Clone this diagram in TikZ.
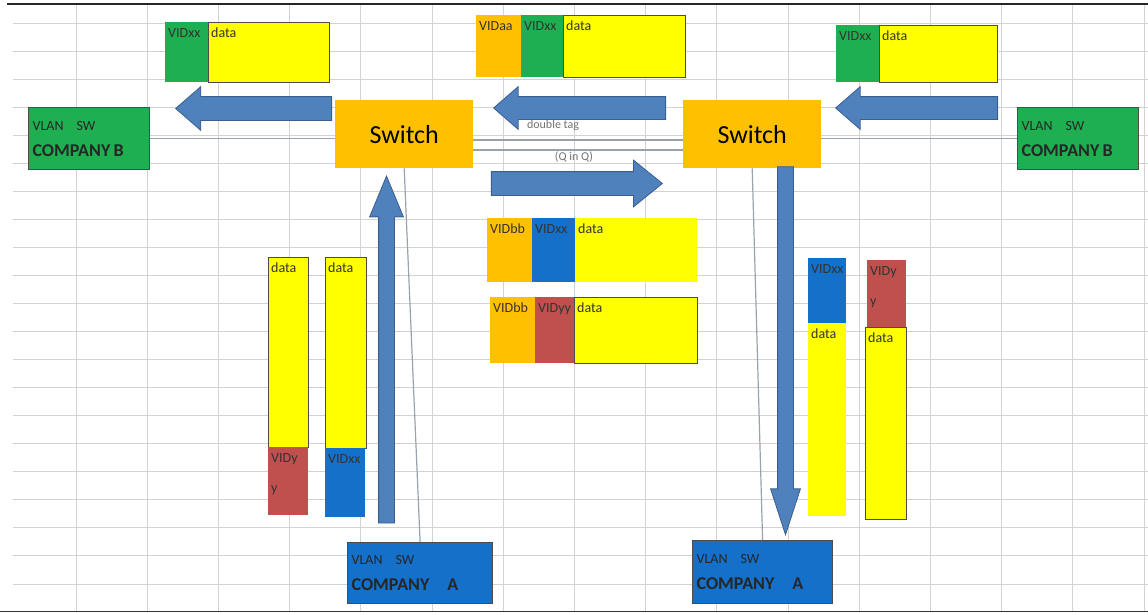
\documentclass[tikz,border=0pt]{standalone}
\usepackage{fontspec}
\setmainfont{Carlito}
\usepackage{xcolor}
\usepackage{tikz}
\usetikzlibrary{shapes,arrows,positioning,calc}
\definecolor{cellyellow}{HTML}{FFFF00}
\definecolor{vidgreen}{HTML}{1DAF50}
\definecolor{vidorange}{HTML}{FFC000}
\definecolor{vidblue}{HTML}{1470C8}
\definecolor{vidred}{HTML}{C0504D}
\definecolor{arrowblue}{HTML}{4F81BD}
\definecolor{arrowedge}{HTML}{3A5F8F}
\definecolor{gridgray}{HTML}{D2D2D2}
\definecolor{linkgray}{HTML}{9AA3AD}
\tikzset{
    cell/.style={
        rectangle,
        inner sep=0pt,
        outer sep=0pt,
        anchor=north west
    },
    datacell/.style={cell, fill=cellyellow},
    framed/.style={draw=black!70, line width=1pt},
    tag/.style={
        anchor=north west,
        inner sep=0pt,
        xshift=3pt,
        yshift=-6pt,
        align=left,
        text=black!80,
        font=\fontsize{14}{30}\selectfont
    },
    company/.style={
        rectangle,
        anchor=north west,
        draw=black!70,
        line width=1.2pt,
        inner sep=4pt,
        align=left,
        text=black!85
    },
    switch/.style={
        rectangle,
        anchor=north west,
        fill=vidorange,
        minimum width=138pt,
        minimum height=68pt,
        inner sep=0pt,
        font=\fontsize{26}{28}\selectfont % big label like the sheet
    },
    bigarrow/.style={
        single arrow,
        anchor=tip,
        draw=arrowedge,
        fill=arrowblue,
        line width=0.8pt,
        inner xsep=0pt,
        single arrow head indent=0pt
    },
    link/.style={draw=linkgray, line width=1.5pt},
    gridline/.style={draw=gridgray, line width=1pt},
    note/.style={text=black!55, inner sep=0pt, font=\fontsize{12}{14}\selectfont}
}
\newcommand{\vlanname}[1]{{\fontsize{14}{16}\selectfont VLAN\hspace{13pt}SW}\\[14pt]{\fontsize{18}{20}\selectfont\bfseries #1}}

\begin{document}
\begin{tikzpicture}[x=1pt, y=-1pt]
    \useasboundingbox (0,0) rectangle (1148,614);
    % sheet grid
    \foreach \gy in {0,...,20}
        \draw[gridline] (13,{23+28.05*\gy}) -- (1148,{23+28.05*\gy});
    \foreach \gx in {0,...,15}
        \draw[gridline] ({76+71.2*\gx},4) -- ({76+71.2*\gx},611);
    \draw[line width=2pt, black!85] (7,3.5) -- (1148,3.5);
    \draw[line width=1.5pt, black!80] (0,611.5) -- (1148,611.5);

    % switches and end stations
    \node (swL) [switch] at (335,100) {Switch};
    \node (swR) [switch] at (683,100) {Switch};
    \node (cbL) [company, fill=vidgreen, text width=113pt, minimum height=62pt] at (28,107) {\vlanname{COMPANY B}};
    \node (cbR) [company, fill=vidgreen, text width=113pt, minimum height=62pt] at (1017,107) {\vlanname{COMPANY B}};
    \node (caL) [company, fill=vidblue, text width=137pt, minimum height=61pt] at (347,542) {\vlanname{COMPANY\hspace{18pt}A}};
    \node (caR) [company, fill=vidblue, text width=132pt, minimum height=63pt] at (692,540) {\vlanname{COMPANY\hspace{18pt}A}};

    \draw[link] (cbL.east) -- (cbL.east -| swL.west);
    \draw[link] (cbR.west -| swR.east) -- (cbR.west);
    \draw[link] ($(swL.east)+(0,6)$) -- ($(swR.west)+(0,6)$);
    \draw[link] ($(swL.east)+(0,16)$) -- ($(swR.west)+(0,16)$);
    \draw[link, line width=1.2pt] (swL.south) -- (caL.north);
    \draw[link, line width=1.2pt] (swR.south) -- (caR.north);

    \node (dtag) [note] at (553,125) {double tag};
    \node (qinq) [note] at (574,157) {(Q in Q)};

    % frames on top
    \node (tlVid) [cell, fill=vidgreen, minimum width=43pt, minimum height=60pt, label={[tag]north west:VIDxx}] at (165,22) {};
    \node (tlData) [datacell, framed, minimum width=121pt, minimum height=60pt, label={[tag]north west:data}] at (tlVid.north east) {};
    \node (tmOuter) [cell, fill=vidorange, minimum width=45pt, minimum height=62pt, label={[tag]north west:VIDaa}] at (476,15) {};
    \node (tmInner) [cell, fill=vidgreen, minimum width=42pt, minimum height=62pt, label={[tag]north west:VIDxx}] at (tmOuter.north east) {};
    \node (tmData) [datacell, framed, minimum width=122pt, minimum height=62pt, label={[tag]north west:data}] at (tmInner.north east) {};
    \node (trVid) [cell, fill=vidgreen, minimum width=43pt, minimum height=57pt, label={[tag]north west:VIDxx}] at (836,25) {};
    \node (trData) [datacell, framed, minimum width=118pt, minimum height=57pt, label={[tag]north west:data}] at (trVid.north east) {};

    % frames between the switches
    \node (maOuter) [cell, fill=vidorange, minimum width=45pt, minimum height=64pt, label={[tag]north west:VIDbb}] at (487,218) {};
    \node (maInner) [cell, fill=vidblue, minimum width=43pt, minimum height=64pt, label={[tag]north west:VIDxx}] at (maOuter.north east) {};
    \node (maData) [datacell, minimum width=122pt, minimum height=64pt, label={[tag]north west:data}] at (maInner.north east) {};
    \node (mbOuter) [cell, fill=vidorange, minimum width=45pt, minimum height=66pt, label={[tag]north west:VIDbb}] at (490,297) {};
    \node (mbInner) [cell, fill=vidred, minimum width=39pt, minimum height=66pt, label={[tag]north west:VIDyy}] at (mbOuter.north east) {};
    \node (mbData) [datacell, framed, minimum width=123pt, minimum height=66pt, label={[tag]north west:data}] at (mbInner.north east) {};

    % frames on the A side
    \node (lyData) [datacell, framed, minimum width=40pt, minimum height=190pt, label={[tag]north west:data}] at (268,257) {};
    \node (lyVid) [cell, fill=vidred, minimum width=40pt, minimum height=68pt, label={[tag]north west:VIDy\\y}] at (lyData.south west) {};
    \node (lxData) [datacell, framed, minimum width=41pt, minimum height=191pt, label={[tag]north west:data}] at (325,257) {};
    \node (lxVid) [cell, fill=vidblue, minimum width=40pt, minimum height=69pt, label={[tag]north west:VIDxx}] at (lxData.south west) {};
    \node (rxVid) [cell, fill=vidblue, minimum width=38pt, minimum height=65pt, label={[tag]north west:VIDxx}] at (808,258) {};
    \node (rxData) [datacell, minimum width=38pt, minimum height=193pt, label={[tag]north west:data}] at (rxVid.south west) {};
    \node (ryVid) [cell, fill=vidred, minimum width=39pt, minimum height=67pt, label={[tag]north west:VIDy\\y}] at (867,260) {};
    \node (ryData) [datacell, framed, minimum width=41pt, minimum height=192pt, label={[tag]north west:data}] at (865,327) {};

    % block arrows, placed by their tips
    \node (arrB1) [bigarrow, rotate=180, minimum height=156pt, inner ysep=11.5pt, single arrow head extend=10pt, single arrow tip angle=82] at (175,108.5) {};
    \node (arrDbl) [bigarrow, rotate=180, minimum height=172pt, inner ysep=11pt, single arrow head extend=10pt, single arrow tip angle=82] at (493,108) {};
    \node (arrB2) [bigarrow, rotate=180, minimum height=162pt, inner ysep=11pt, single arrow head extend=10pt, single arrow tip angle=82] at (835,108) {};
    \node (arrQ) [bigarrow, minimum height=171pt, inner ysep=11.5pt, single arrow head extend=11.5pt, single arrow tip angle=78] at (663,183.5) {};
    \node (arrUp) [bigarrow, rotate=90, minimum height=347pt, inner ysep=7.5pt, single arrow head extend=9pt, single arrow tip angle=45] at (386.5,175) {};
    \node (arrDown) [bigarrow, rotate=-90, minimum height=368pt, inner ysep=7.5pt, single arrow head extend=7pt, single arrow tip angle=36] at (785.5,536) {};
\end{tikzpicture}
\end{document}
